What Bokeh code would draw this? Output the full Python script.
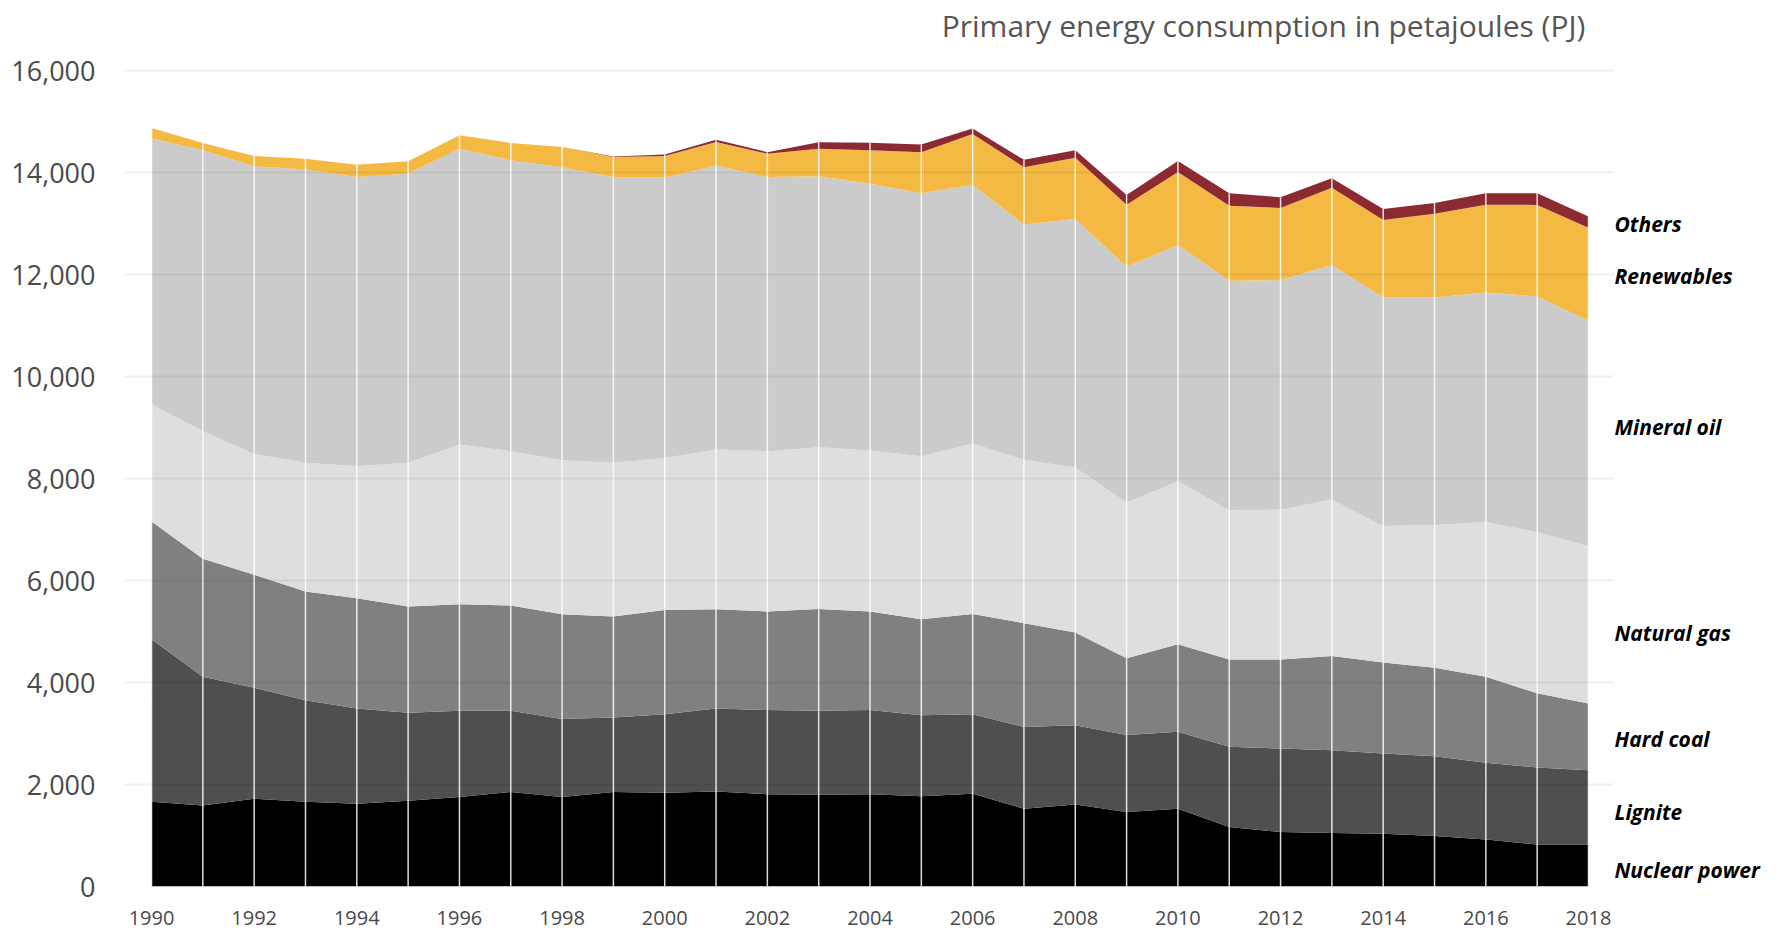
from bokeh.plotting import figure
from bokeh.models import ColumnDataSource, FixedTicker, NumeralTickFormatter, Label, Range1d
from bokeh.layouts import row
from bokeh.embed import file_html
from bokeh.resources import INLINE

# ---- data (PJ) ----
years = list(range(1990, 2019))
nuclear = [1660, 1590, 1720, 1660, 1625, 1680, 1755, 1855, 1755, 1855, 1840, 1865, 1810, 1800, 1810,
           1770, 1820, 1525, 1610, 1460, 1525, 1165, 1070, 1050, 1035, 990, 920, 825, 825]
lignite = [3190, 2525, 2180, 1995, 1865, 1730, 1690, 1590, 1530, 1460, 1540, 1625, 1650, 1645, 1650,
           1590, 1560, 1605, 1555, 1510, 1510, 1575, 1635, 1625, 1575, 1565, 1505, 1510, 1455]
hard_coal = [2310, 2315, 2215, 2130, 2165, 2080, 2090, 2065, 2055, 1980, 2045, 1950, 1935, 2000, 1935,
             1880, 1965, 2035, 1815, 1505, 1715, 1715, 1750, 1845, 1785, 1735, 1690, 1455, 1310]
natural_gas = [2300, 2500, 2370, 2525, 2590, 2820, 3135, 3030, 3020, 3015, 2980, 3130, 3145, 3170, 3155,
               3200, 3345, 3205, 3240, 3055, 3200, 2925, 2935, 3070, 2675, 2800, 3035, 3160, 3090]
mineral_oil = [5210, 5510, 5645, 5755, 5670, 5670, 5800, 5705, 5750, 5605, 5495, 5575, 5375, 5315, 5235,
               5160, 5075, 4615, 4875, 4625, 4635, 4500, 4505, 4600, 4485, 4465, 4500, 4625, 4415]
renewables = [210, 145, 200, 210, 240, 245, 265, 340, 395, 395, 430, 460, 460, 540, 655,
              805, 995, 1125, 1200, 1220, 1430, 1475, 1415, 1515, 1520, 1640, 1725, 1795, 1825]
others = [0, 0, 0, 0, 0, 0, 0, 0, 0, 10, 30, 45, 30, 130, 150,
          150, 110, 145, 145, 190, 215, 245, 210, 190, 215, 210, 225, 230, 220]

series_keys = ["nuclear", "lignite", "hard_coal", "natural_gas", "mineral_oil", "renewables", "others"]
series_names = ["Nuclear power", "Lignite", "Hard coal", "Natural gas", "Mineral oil", "Renewables", "Others"]
series_colors = ["#000000", "#4f4f4f", "#808080", "#dedede", "#cbcbcb", "#f4b942", "#8c2a32"]
y_ticks = [0, 2000, 4000, 6000, 8000, 10000, 12000, 14000, 16000]
x_ticks = years[::2]
title_text = "Primary energy consumption in petajoules (PJ)"

data = dict(year=years, nuclear=nuclear, lignite=lignite, hard_coal=hard_coal,
            natural_gas=natural_gas, mineral_oil=mineral_oil, renewables=renewables, others=others)
totals = [sum(v) for v in zip(nuclear, lignite, hard_coal, natural_gas, mineral_oil, renewables, others)]
data["total"] = totals
data["zero"] = [0] * len(years)
source = ColumnDataSource(data)

FONT = "Open Sans"
TOP, BOTTOM = 2, 47
y_range = Range1d(0, 17340)

p = figure(width=1614, height=933, output_backend="svg", toolbar_location=None,
           x_range=Range1d(1989.454, 2018.507), y_range=y_range,
           min_border_left=123, min_border_right=0, min_border_top=TOP, min_border_bottom=BOTTOM)
p.outline_line_color = None
p.background_fill_color = "white"
p.border_fill_color = "white"

p.varea_stack(stackers=series_keys, x="year", color=series_colors, source=source)
p.segment(x0="year", y0="zero", x1="year", y1="total", source=source,
          line_color="white", line_width=1.5, line_alpha=0.85)

# grid
p.xgrid.grid_line_color = None
p.ygrid.ticker = FixedTicker(ticks=y_ticks)
p.ygrid.grid_line_color = "#000000"
p.ygrid.grid_line_alpha = 0.06
p.ygrid.grid_line_width = 2
p.ygrid.level = "guide"

# axes
p.yaxis.ticker = FixedTicker(ticks=y_ticks)
p.yaxis.formatter = NumeralTickFormatter(format="0,0")
p.xaxis.ticker = FixedTicker(ticks=x_ticks)
for ax in (p.xaxis, p.yaxis):
    ax.axis_line_color = None
    ax.major_tick_line_color = None
    ax.minor_tick_line_color = None
    ax.major_label_text_font = FONT
    ax.major_label_text_color = "#4a4a4a"
p.yaxis.major_label_text_font_size = "27px"
p.yaxis.major_label_standoff = 22
p.xaxis.major_label_text_font_size = "20px"
p.xaxis.major_label_standoff = 18

# title
p.add_layout(Label(x=2017.94, y=16890, text=title_text, text_align="right", text_baseline="middle",
                   text_font=FONT, text_font_size="30px", text_color="#555555"))

# series labels on the right, in a narrow companion figure sharing the y range
p2 = figure(width=167, height=933, output_backend="svg", toolbar_location=None,
            x_range=Range1d(0, 1), y_range=y_range,
            min_border_left=0, min_border_right=0, min_border_top=TOP, min_border_bottom=BOTTOM)
p2.axis.visible = False
p2.grid.grid_line_color = None
p2.outline_line_color = None
p2.background_fill_color = "white"
p2.border_fill_color = "white"

label_y = [330, 1470, 2900, 4980, 9020, 11970, 13000]
for name, yy in zip(series_names, label_y):
    p2.add_layout(Label(x=0.0, y=yy, text=name, text_align="left", text_baseline="middle",
                        text_font=FONT, text_font_size="21px", text_font_style="bold italic",
                        text_color="#000000"))

layout = row(p, p2, spacing=0)
open("out.html", "w").write(file_html(layout, INLINE))
